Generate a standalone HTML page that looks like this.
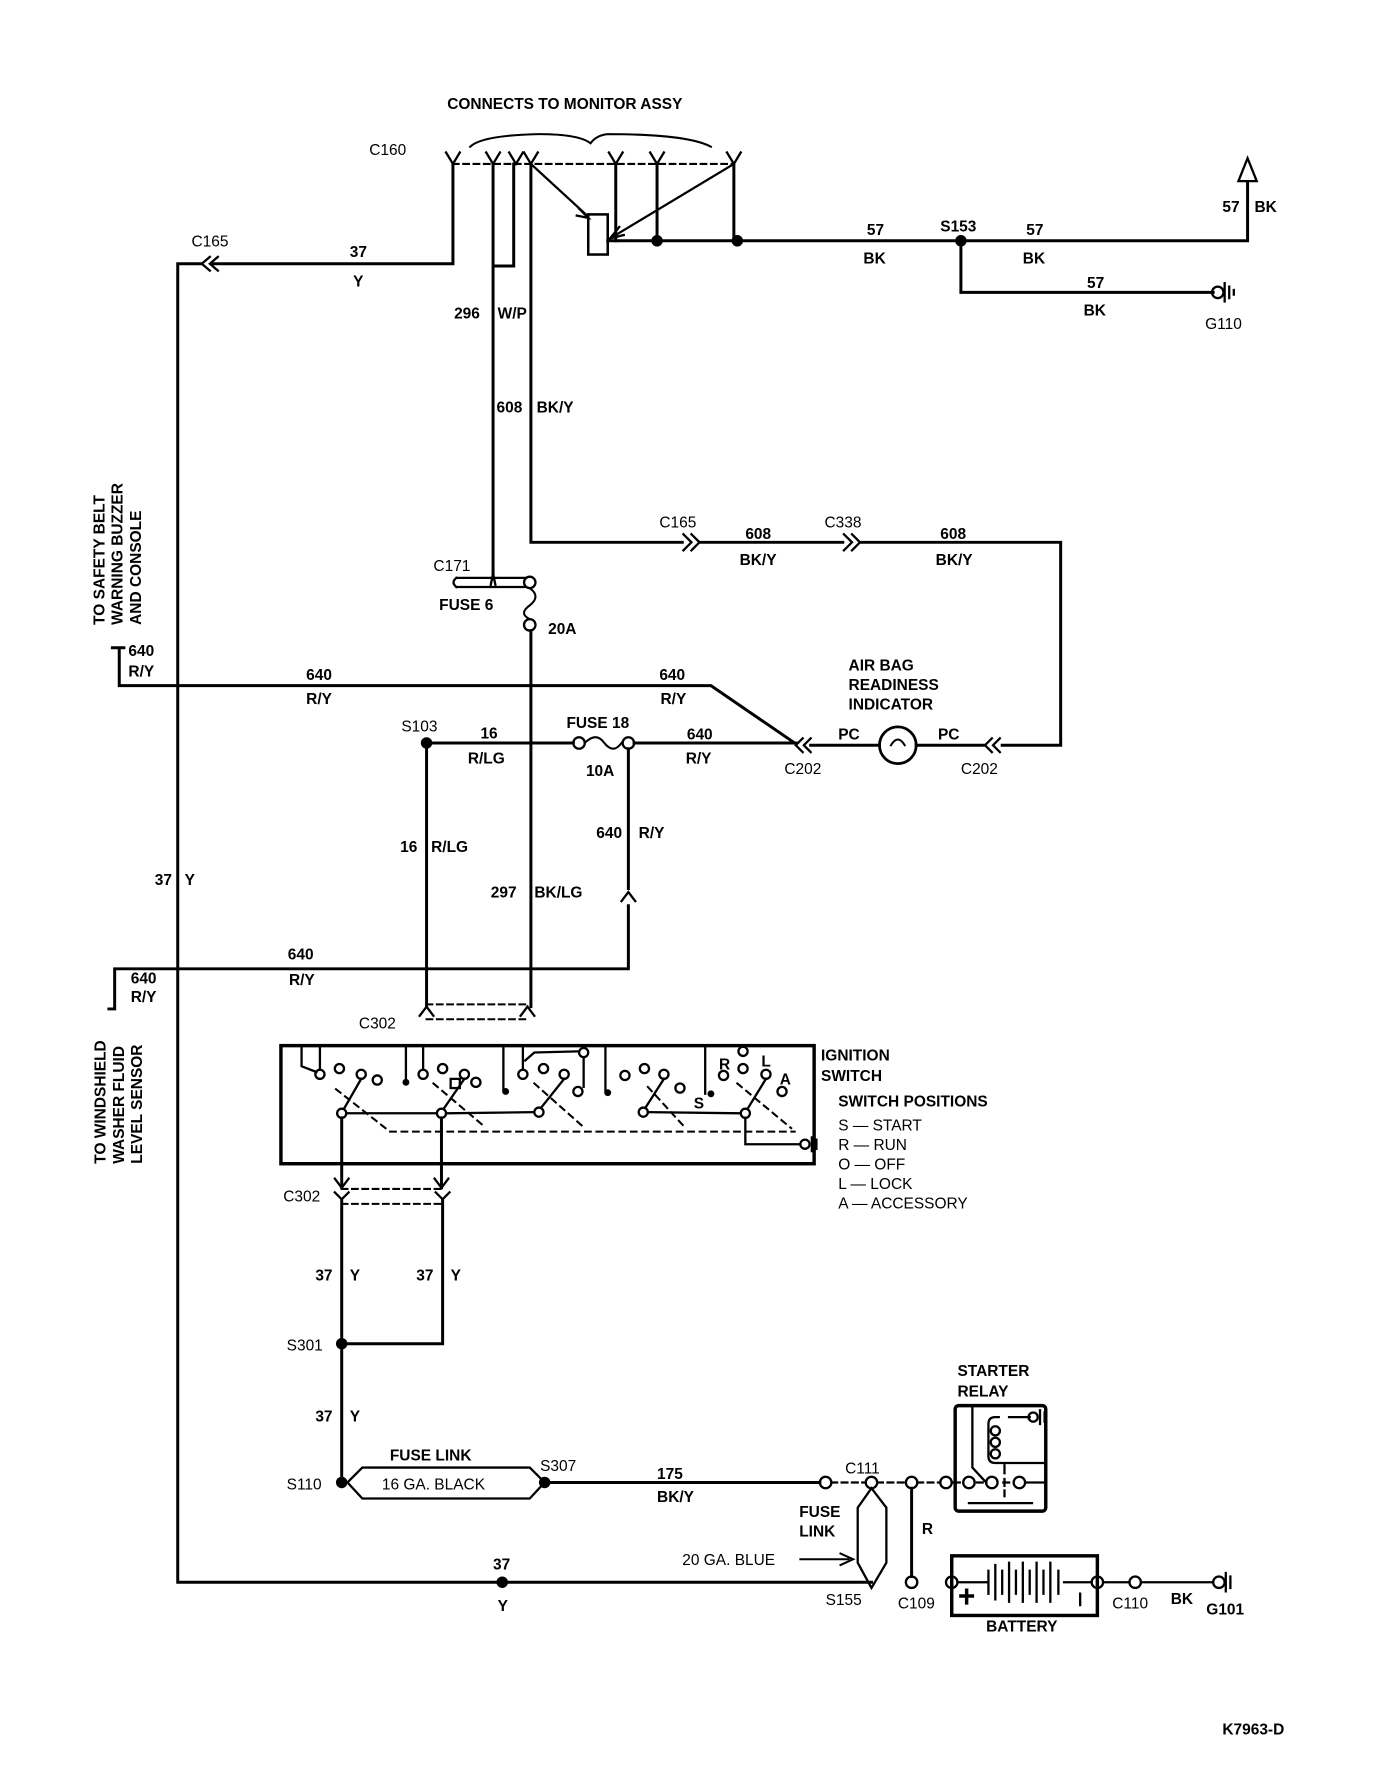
<!DOCTYPE html>
<html><head><meta charset="utf-8"><style>
html,body{margin:0;padding:0;background:#fff;}
svg{display:block;}
text{font-family:"Liberation Sans",sans-serif;font-weight:bold;font-size:13.5px;fill:#000;}
.n{font-weight:normal;}
</style></head><body>
<svg width="1376" height="1784" viewBox="0 0 1200 1556" preserveAspectRatio="none" xmlns="http://www.w3.org/2000/svg">
<g fill="none" stroke="#000" stroke-width="2.6" stroke-linecap="square">
<path d="M410,128 Q420,118 470,117 Q505,117 515,125 Q520,118 530,117 Q600,117 620,128" stroke-width="1.8"/>
<g stroke-width="2">
<path d="M389,133 L395,143 L401,133"/><path d="M424,133 L430,143 L436,133"/><path d="M444,133 L450,143 L456,133"/>
<path d="M457,133 L463,143 L469,133"/><path d="M531,133 L537,143 L543,133"/><path d="M567,133 L573,143 L579,133"/><path d="M634,133 L640,143 L646,133"/>
</g>
<path d="M395,143 L640,143" stroke-dasharray="5,4" stroke-width="1.8"/>
<path d="M395,143 L395,230 L186,230"/>
<path d="M190,224 L183,230 L190,236 M183,224 L176,230 L183,236" stroke-width="2"/>
<path d="M176,230 L155,230 L155,1380 L760,1380"/>
<path d="M430,143 L430,505 M448,143 L448,232 L430,232"/>
<path d="M463,143 L463,473 L595,473"/>
<path d="M596,466 L603,473 L596,480 M603,466 L610,473 L603,480" stroke-width="2"/>
<path d="M610,473 L735,473"/>
<path d="M736,466 L743,473 L736,480 M743,466 L750,473 L743,480" stroke-width="2"/>
<path d="M750,473 L925,473 L925,650 L874,650"/>
<path d="M872,644 L866,650 L872,656 M865,644 L859,650 L865,656" stroke-width="2"/>
<path d="M463,143 L512,188" stroke-width="2"/>
<path d="M505,182 L513,190 L503,188" stroke-width="2"/>
<rect x="513" y="187" width="17" height="35" stroke-width="2.2"/>
<path d="M640,143 L532,208" stroke-width="2"/>
<path d="M540,198 L532,208 L544,205" stroke-width="2"/>
<path d="M537,143 L537,210 M573,143 L573,210 M640,143 L640,210"/>
<path d="M530,210 L1088,210 L1088,160"/>
<path d="M838,210 L838,255 L1058,255"/>
<path d="M1080,158 L1088,138 L1096,158 Z" stroke-width="2"/>
<circle cx="1062" cy="255" r="5" stroke-width="2"/>
<path d="M1068,247 L1068,263 M1072,250 L1072,260 M1076,253 L1076,257" stroke-width="2"/>
<path d="M398,504 L458,504 M398,512 L458,512 M398,504 Q393,508 398,512" stroke-width="2"/>
<circle cx="462" cy="508" r="5" stroke-width="2"/>
<path d="M428,510 L430,500 L432,510" stroke-width="2"/>
<path d="M462,513 Q472,520 462,528 Q452,535 462,540" stroke-width="1.8"/>
<circle cx="462" cy="545" r="5" stroke-width="2"/>
<path d="M463,550 L463,878"/>
<path d="M98,565 L108,565 M104,565 L104,598 L620,598 L693,648" />
<path d="M700,644 L694,650 L700,656 M707,644 L701,650 L707,656" stroke-width="2"/>
<path d="M372,648 L500,648"/>
<circle cx="505" cy="648" r="5" stroke-width="2"/>
<path d="M510,648 Q520,638 527,648 Q535,658 542,648" stroke-width="1.8"/>
<circle cx="548" cy="648" r="5" stroke-width="2"/>
<path d="M553,648 L694,648 M707,650 L767,650"/>
<circle cx="783" cy="650" r="16" stroke-width="2.4"/>
<path d="M777,650 Q783,640 789,650" stroke-width="1.8"/>
<path d="M799,650 L858,650"/>
<path d="M372,648 L372,878"/>
<path d="M548,653 L548,775"/>
<path d="M542,786 L548,778 L554,786" stroke-width="2"/>
<path d="M548,790 L548,845 L100,845 L100,880 L95,880"/>
<path d="M366,886 L372,878 L378,886 M460,878 L466,886 M454,886 L460,878" stroke-width="2"/>
<path d="M372,876 L460,876 M372,889 L460,889" stroke-dasharray="5,4" stroke-width="1.8"/>
<rect x="245" y="912" width="465" height="103" stroke-width="3"/>
<g stroke-width="2">
<path d="M263,912 L263,930 L276,935 M279,912 L279,932"/>
<path d="M354,912 L354,943 M369,912 L369,932 M439,912 L439,952 M456,912 L456,932 M458,925 L466,918 L504,917 M509,923 L509,948 M528,912 L528,952 M615,912 L615,954"/>
<circle cx="279" cy="937" r="4"/><circle cx="296" cy="932" r="4"/><circle cx="315" cy="937" r="4"/><circle cx="329" cy="942" r="4"/>
<circle cx="369" cy="937" r="4"/><circle cx="386" cy="932" r="4"/><circle cx="405" cy="937" r="4"/><circle cx="415" cy="944" r="4"/>
<rect x="393" y="941" width="8" height="8"/>
<circle cx="456" cy="937" r="4"/><circle cx="474" cy="932" r="4"/><circle cx="492" cy="937" r="4"/><circle cx="504" cy="952" r="4"/><circle cx="509" cy="918" r="4"/>
<circle cx="545" cy="938" r="4"/><circle cx="562" cy="932" r="4"/><circle cx="579" cy="937" r="4"/><circle cx="593" cy="949" r="4"/>
<circle cx="631" cy="938" r="4"/><circle cx="648" cy="917" r="4"/><circle cx="648" cy="932" r="4"/><circle cx="668" cy="937" r="4"/><circle cx="682" cy="952" r="4"/>
<circle cx="298" cy="971" r="4"/><circle cx="385" cy="971" r="4"/><circle cx="470" cy="970" r="4"/><circle cx="561" cy="970" r="4"/><circle cx="650" cy="971" r="4"/>
<path d="M300,967 L315,941 M387,967 L405,941 M472,966 L492,941 M563,966 L579,941 M652,967 L668,941"/>
<path d="M302,971 L381,971 M389,971 L466,970 M565,970 L646,971"/>
<path d="M650,975 L650,998 L698,998"/>
<circle cx="702" cy="998" r="4"/>
<path d="M708,992 L708,1004 M712,994 L712,1002"/>
</g>
<g fill="#000" stroke="none"><circle cx="354" cy="944" r="3"/><circle cx="441" cy="952" r="3"/><circle cx="530" cy="953" r="3"/><circle cx="620" cy="954" r="3"/></g>
<path d="M293,950 L340,987 L693,987 M378,945 L423,983 M466,945 L510,984 M565,948 L597,983 M643,945 L690,984" stroke-dasharray="5,5" stroke-width="1.8"/>
<path d="M298,975 L298,1036 M385,975 L385,1036"/>
<path d="M292,1028 L298,1036 L304,1028 M379,1028 L385,1036 L391,1028 M292,1040 L298,1046 L304,1040 M380,1040 L386,1046 L392,1040" stroke-width="2"/>
<path d="M298,1037 L385,1037 M298,1050 L386,1050" stroke-dasharray="5,4" stroke-width="1.8"/>
<path d="M298,1046 L298,1293 M386,1046 L386,1172 L298,1172"/>
<path d="M303,1293 L316,1280 L462,1280 L475,1293 L462,1307 L316,1307 Z" stroke-width="2"/>
<path d="M475,1293 L715,1293"/>
<circle cx="720" cy="1293" r="5" stroke-width="2"/>
<path d="M725,1293 L755,1293 M765,1293 L790,1293 M800,1293 L820,1293" stroke-dasharray="5,4" stroke-width="2"/>
<circle cx="760" cy="1293" r="5" stroke-width="2"/>
<circle cx="795" cy="1293" r="5" stroke-width="2"/>
<circle cx="825" cy="1293" r="5" stroke-width="2"/>
<path d="M760,1298 L773,1315 L773,1363 L760,1385 L748,1363 L748,1315 Z" stroke-width="2"/>
<path d="M698,1360 L740,1360" stroke-width="1.8"/><path d="M733,1355 L744,1360 L733,1365" stroke-width="1.8"/>
<path d="M795,1298 L795,1375"/>
<circle cx="795" cy="1380" r="5" stroke-width="2"/>
<circle cx="830" cy="1380" r="5" stroke-width="2"/>
<rect x="830" y="1357" width="127" height="52" stroke-width="3"/>
<g stroke-width="2"><path d="M835,1380 L860,1380 M862,1370 L862,1390 M868,1365 L868,1395 M874,1370 L874,1390 M880,1363 L880,1397 M886,1370 L886,1390 M892,1363 L892,1397 M898,1370 L898,1390 M904,1363 L904,1397 M910,1370 L910,1390 M916,1363 L916,1397 M923,1370 L923,1390 M928,1380 L952,1380 M942,1390 L942,1400"/>
<path d="M838,1392 L848,1392 M843,1387 L843,1398" stroke-width="3"/>
<circle cx="957" cy="1380" r="5"/><circle cx="990" cy="1380" r="5"/>
<path d="M962,1380 L985,1380 M995,1380 L1058,1380"/>
<circle cx="1063" cy="1380" r="5"/>
<path d="M1069,1372 L1069,1388 M1073,1375 L1073,1385"/>
</g>
<rect x="833" y="1226" width="79" height="92" rx="3" stroke-width="3"/>
<g stroke-width="2">
<path d="M848,1226 L848,1280 L860,1293 M830,1293 L837,1293 M852,1293 L857,1293 M880,1293 L875,1293 M894,1293 L912,1293"/>
<circle cx="845" cy="1293" r="5"/><circle cx="865" cy="1293" r="5"/><circle cx="889" cy="1293" r="5"/>
<path d="M880,1236 L898,1236 M871,1236 L868,1236 Q862,1236 862,1242 L862,1270 Q862,1276 868,1276 L912,1276" />
<circle cx="868" cy="1248" r="4"/><circle cx="868" cy="1258" r="4"/><circle cx="868" cy="1268" r="4"/>
<path d="M876,1278 L876,1285 M876,1290 L876,1296 M876,1300 L876,1305" />
<path d="M845,1311 L900,1311"/>
<circle cx="901" cy="1236" r="4"/><path d="M907,1230 L907,1242 M911,1232 L911,1240"/>
</g>
</g>
<g fill="#000">
<circle cx="573" cy="210" r="5"/><circle cx="643" cy="210" r="5"/><circle cx="838" cy="210" r="5"/>
<circle cx="372" cy="648" r="5"/><circle cx="298" cy="1172" r="5"/><circle cx="298" cy="1293" r="5"/>
<circle cx="475" cy="1293" r="5"/><circle cx="438" cy="1380" r="5"/>
</g>
<text x="390" y="95">CONNECTS TO MONITOR ASSY</text>
<text x="322" y="135" class="n">C160</text>
<text x="167" y="215" class="n">C165</text>
<text x="305" y="224">37</text><text x="308" y="250">Y</text>
<text x="396" y="278">296</text><text x="434" y="278">W/P</text>
<text x="433" y="360">608</text><text x="468" y="360">BK/Y</text>
<text x="756" y="205">57</text><text x="753" y="230">BK</text>
<text x="820" y="202">S153</text>
<text x="895" y="205">57</text><text x="892" y="230">BK</text>
<text x="1066" y="185">57</text><text x="1094" y="185">BK</text>
<text x="948" y="251">57</text><text x="945" y="275">BK</text>
<text x="1051" y="287" class="n">G110</text>
<text x="575" y="460" class="n">C165</text>
<text x="650" y="470">608</text><text x="645" y="493">BK/Y</text>
<text x="719" y="460" class="n">C338</text>
<text x="820" y="470">608</text><text x="816" y="493">BK/Y</text>
<text x="378" y="498" class="n">C171</text>
<text x="383" y="532">FUSE 6</text>
<text x="478" y="553">20A</text>
<text x="112" y="572">640</text><text x="112" y="590">R/Y</text>
<text x="267" y="593">640</text><text x="267" y="614">R/Y</text>
<text x="575" y="593">640</text><text x="576" y="614">R/Y</text>
<text x="740" y="585">AIR BAG</text><text x="740" y="602">READINESS</text><text x="740" y="619">INDICATOR</text>
<text x="350" y="638" class="n">S103</text>
<text x="419" y="644">16</text><text x="408" y="666">R/LG</text>
<text x="494" y="635">FUSE 18</text>
<text x="511" y="677">10A</text>
<text x="599" y="645">640</text><text x="598" y="666">R/Y</text>
<text x="731" y="645">PC</text><text x="818" y="645">PC</text>
<text x="684" y="675" class="n">C202</text><text x="838" y="675" class="n">C202</text>
<text x="349" y="743">16</text><text x="376" y="743">R/LG</text>
<text x="520" y="731">640</text><text x="557" y="731">R/Y</text>
<text x="135" y="772">37</text><text x="161" y="772">Y</text>
<text x="428" y="783">297</text><text x="466" y="783">BK/LG</text>
<text x="251" y="837">640</text><text x="252" y="859">R/Y</text>
<text x="114" y="858">640</text><text x="114" y="874">R/Y</text>
<text x="313" y="897" class="n">C302</text>
<text x="716" y="925">IGNITION</text><text x="716" y="943">SWITCH</text>
<text x="731" y="965">SWITCH POSITIONS</text>
<text x="731" y="986" class="n">S — START</text>
<text x="731" y="1003" class="n">R — RUN</text>
<text x="731" y="1020" class="n">O — OFF</text>
<text x="731" y="1037" class="n">L — LOCK</text>
<text x="731" y="1054" class="n">A — ACCESSORY</text>
<text x="627" y="933" font-size="12">R</text><text x="664" y="930" font-size="12">L</text><text x="680" y="946" font-size="12">A</text><text x="605" y="967" font-size="12">S</text>
<text x="247" y="1048" class="n">C302</text>
<text x="275" y="1117">37</text><text x="305" y="1117">Y</text>
<text x="363" y="1117">37</text><text x="393" y="1117">Y</text>
<text x="250" y="1178" class="n">S301</text>
<text x="275" y="1240">37</text><text x="305" y="1240">Y</text>
<text x="340" y="1274">FUSE LINK</text>
<text x="333" y="1299" class="n">16 GA. BLACK</text>
<text x="250" y="1299" class="n">S110</text>
<text x="471" y="1283" class="n">S307</text>
<text x="573" y="1290">175</text><text x="573" y="1310">BK/Y</text>
<text x="737" y="1285" class="n">C111</text>
<text x="697" y="1323">FUSE</text><text x="697" y="1340">LINK</text>
<text x="595" y="1365" class="n">20 GA. BLUE</text>
<text x="804" y="1338">R</text>
<text x="720" y="1400" class="n">S155</text>
<text x="430" y="1369">37</text><text x="434" y="1405">Y</text>
<text x="783" y="1403" class="n">C109</text>
<text x="860" y="1423">BATTERY</text>
<text x="970" y="1403" class="n">C110</text>
<text x="1021" y="1399">BK</text>
<text x="1052" y="1408">G101</text>
<text x="835" y="1200">STARTER</text><text x="835" y="1218">RELAY</text>
<text x="1066" y="1513">K7963-D</text>
<text transform="translate(91,545) rotate(-90)">TO SAFETY BELT</text>
<text transform="translate(107,545) rotate(-90)">WARNING BUZZER</text>
<text transform="translate(123,545) rotate(-90)">AND CONSOLE</text>
<text transform="translate(92,1015) rotate(-90)">TO WINDSHIELD</text>
<text transform="translate(108,1015) rotate(-90)">WASHER FLUID</text>
<text transform="translate(124,1015) rotate(-90)">LEVEL SENSOR</text>
</svg>
</body></html>
